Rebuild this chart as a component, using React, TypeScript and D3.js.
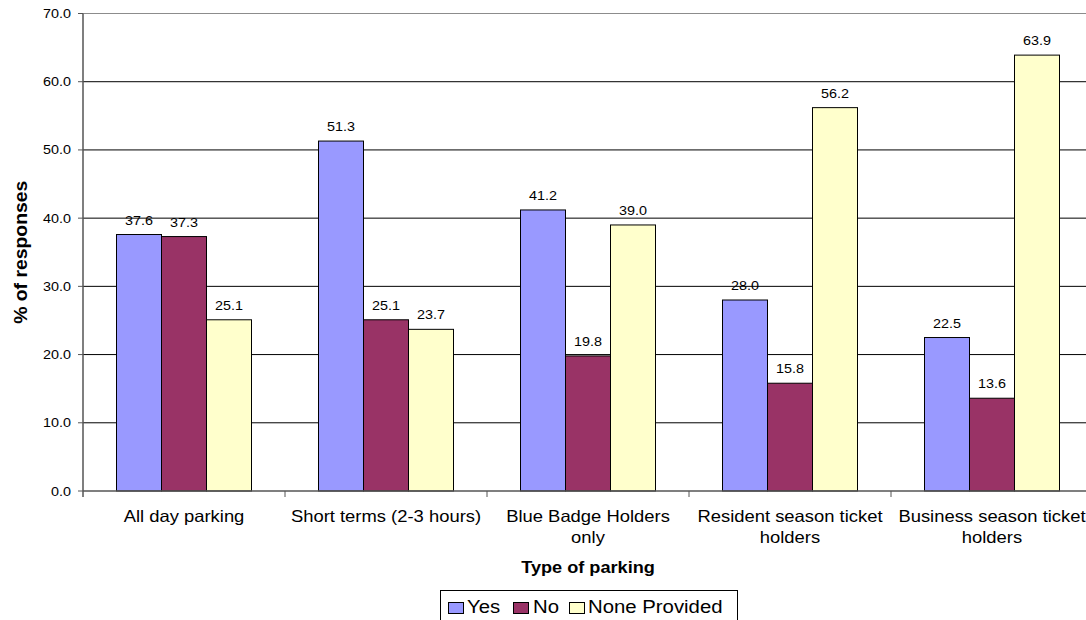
import React from "react";
import * as d3 from "d3";

const categories: string[][] = [
  ["All day parking"],
  ["Short terms (2-3 hours)"],
  ["Blue Badge Holders", "only"],
  ["Resident season ticket", "holders"],
  ["Business season ticket", "holders"],
];
const seriesNames = ["Yes", "No", "None Provided"];
const yesValues = [37.6, 51.3, 41.2, 28.0, 22.5];
const noValues = [37.3, 25.1, 19.8, 15.8, 13.6];
const noneValues = [25.1, 23.7, 39.0, 56.2, 63.9];
const yTicks = [0, 10, 20, 30, 40, 50, 60, 70];
const seriesColors = ["#9999FF", "#993366", "#FFFFCC"];

const W = 1086;
const H = 620;
const left = 83;
const top = 13.5;
const bottom = 491;
const band = 202;
const right = left + band * categories.length;
const FONT = "'Liberation Sans', Arial, Helvetica, sans-serif";

function SText(props: {
  x: number;
  y: number;
  size: number;
  sx?: number;
  anchor?: string;
  weight?: string;
  rotate?: number;
  children: React.ReactNode;
}) {
  const { x, y, size, sx = 1.14, anchor = "middle", weight = "normal", rotate = 0 } = props;
  return (
    <text
      transform={`translate(${x},${y}) rotate(${rotate}) scale(${sx},1)`}
      fontSize={size}
      fontFamily={FONT}
      fontWeight={weight}
      textAnchor={anchor}
      fill="#000"
    >
      {props.children}
    </text>
  );
}

export default function App() {
  const keys = categories.map((c) => c.join(" "));
  const x = d3.scaleBand<string>().domain(keys).range([left, right]).padding(0);
  const barsWidth = 135;
  const inner = d3.scaleBand<string>().domain(seriesNames).range([0, barsWidth]).padding(0);
  const y = d3.scaleLinear().domain([0, 70]).range([bottom, top]);
  const values = [yesValues, noValues, noneValues];
  const offset = (x.bandwidth() - barsWidth) / 2;

  return (
    <svg
      width={W}
      height={H}
      style={{ position: "absolute", left: 0, top: 0, display: "block", background: "#fff" }}
    >
      {/* gridlines */}
      {yTicks.slice(1, -1).map((t) => (
        <line key={"g" + t} x1={left} x2={right} y1={y(t)} y2={y(t)} stroke="#000" strokeWidth={1} />
      ))}
      <line x1={left} x2={right} y1={y(70)} y2={y(70)} stroke="#8c8c8c" strokeWidth={1} />
      {/* bars */}
      {keys.map((k, ci) =>
        seriesNames.map((s, si) => {
          const v = values[si][ci];
          const bx = (x(k) as number) + offset + (inner(s) as number);
          return (
            <g key={k + s}>
              <rect
                x={bx}
                y={y(v)}
                width={inner.bandwidth()}
                height={bottom - y(v)}
                fill={seriesColors[si]}
                stroke="#000"
                strokeWidth={1}
              />
              <SText x={bx + inner.bandwidth() / 2} y={y(v) - 10} size={12.6}>
                {v.toFixed(1)}
              </SText>
            </g>
          );
        })
      )}
      {/* axes */}
      <line x1={left} x2={left} y1={top} y2={bottom + 6} stroke="#555" strokeWidth={1.5} />
      <line x1={left} x2={right} y1={bottom} y2={bottom} stroke="#555" strokeWidth={1.5} />
      {yTicks.map((t) => (
        <g key={"t" + t}>
          <line x1={left - 5} x2={left} y1={y(t)} y2={y(t)} stroke="#555" strokeWidth={1} />
          <SText x={71} y={y(t) + 4.5} size={12.6} anchor="end">
            {t.toFixed(1)}
          </SText>
        </g>
      ))}
      {keys.map((k, i) => (
        <line
          key={"xt" + i}
          x1={(x(k) as number) + x.bandwidth()}
          x2={(x(k) as number) + x.bandwidth()}
          y1={bottom}
          y2={bottom + 6}
          stroke="#555"
          strokeWidth={1}
        />
      ))}
      {categories.map((lines, i) =>
        lines.map((ln, j) => (
          <SText
            key={"c" + i + j}
            x={(x(keys[i]) as number) + x.bandwidth() / 2}
            y={522 + j * 21}
            size={16.3}
            sx={1.13}
          >
            {ln}
          </SText>
        ))
      )}
      {/* axis titles */}
      <SText x={(left + right) / 2} y={573} size={16.5} sx={1.1} weight="bold">
        Type of parking
      </SText>
      <SText x={27} y={(top + bottom) / 2} size={19} sx={1.02} weight="bold" rotate={-90}>
        % of responses
      </SText>
      {/* legend */}
      <rect x={440.5} y={590.5} width={297} height={40} fill="#fff" stroke="#000" strokeWidth={1} />
      {seriesNames.map((s, i) => {
        const sxs = [448, 513, 569];
        const txs = [467, 533, 588];
        return (
          <g key={"l" + s}>
            <rect x={sxs[i] + 0.5} y={602.5} width={15} height={11} fill={seriesColors[i]} stroke="#000" strokeWidth={1} />
            <SText x={txs[i]} y={613.3} size={18.5} sx={1.1} anchor="start">
              {s}
            </SText>
          </g>
        );
      })}
    </svg>
  );
}
